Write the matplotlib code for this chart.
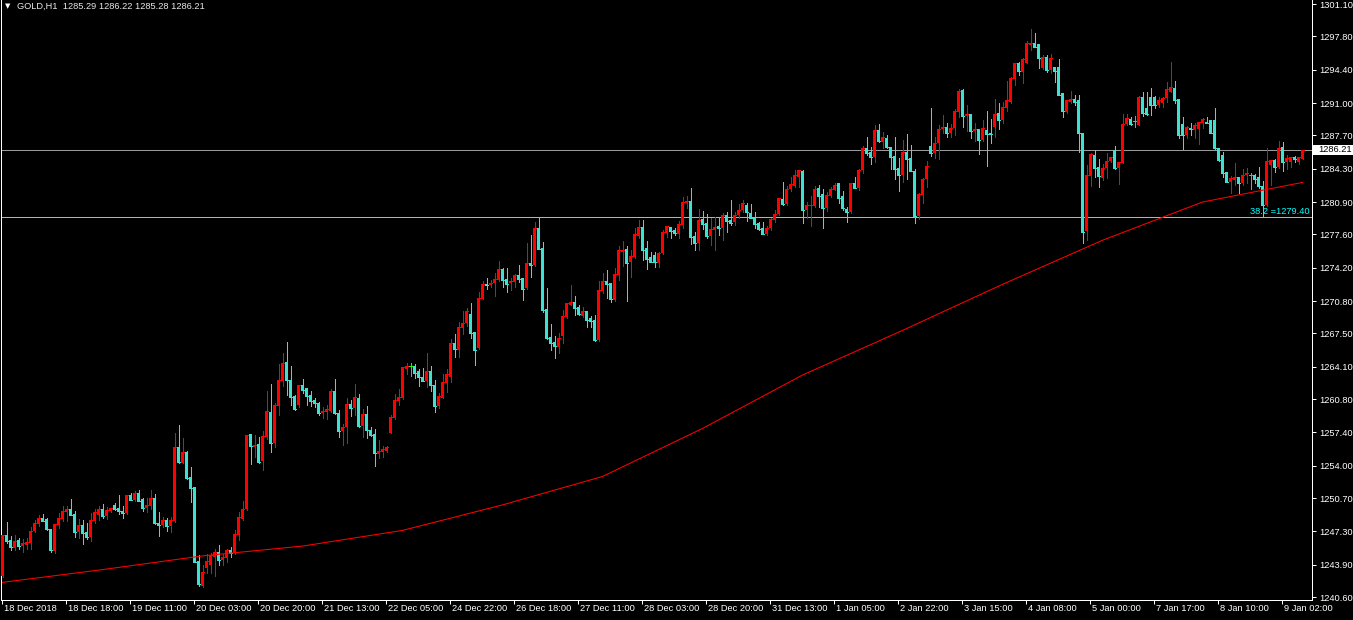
import matplotlib
matplotlib.use('Agg')
import matplotlib.pyplot as plt
import matplotlib.transforms as mtransforms
from matplotlib.patches import Rectangle
import numpy as np

# ---------------- data (GOLD, H1) ----------------
opens = [
1242.75,1246.9,1246.4,1245.6,1246.4,1245.8,1245.9,1246.1,1247.3,1248.1,
1248.7,1248.6,1247.5,1245.3,1248.0,1248.6,1249.3,1249.6,1249.1,1247.2,
1248.0,1247.2,1246.7,1248.4,1249.0,1249.6,1248.9,1249.4,1250.0,1249.7,
1249.4,1249.2,1251.0,1250.5,1251.2,1250.6,1249.7,1249.9,1250.7,1248.2,
1248.0,1248.5,1247.9,1248.4,1255.9,1254.3,1255.4,1252.8,1251.8,1244.3,
1241.7,1243.6,1243.9,1244.7,1245.2,1244.4,1244.6,1245.4,1245.1,1246.9,
1248.6,1249.6,1257.2,1255.9,1256.2,1254.5,1256.9,1259.5,1256.3,1260.1,
1262.6,1264.6,1262.7,1261.1,1260.2,1262.2,1261.9,1261.2,1260.7,1260.4,
1259.4,1259.5,1259.6,1261.6,1259.4,1257.5,1257.9,1260.3,1259.9,1260.9,
1258.0,1259.3,1257.6,1257.2,1255.2,1255.4,1255.5,1257.3,1258.9,1260.6,
1260.9,1263.9,1264.2,1264.2,1263.7,1263.1,1262.6,1263.7,1262.2,1260.1,
1260.9,1262.4,1263.1,1266.5,1265.8,1268.0,1268.6,1269.5,1267.6,1266.0,
1271.0,1272.5,1272.4,1272.6,1272.9,1274.1,1273.0,1272.6,1272.7,1273.5,
1273.2,1272.1,1274.7,1274.5,1278.2,1276.2,1270.0,1267.1,1266.6,1266.1,
1267.2,1269.2,1270.4,1270.7,1270.2,1269.3,1269.8,1269.1,1268.9,1266.8,
1271.8,1272.8,1272.6,1270.9,1273.5,1275.8,1276.1,1274.8,1275.3,1277.4,
1278.4,1276.2,1275.3,1275.5,1274.7,1275.7,1277.7,1278.4,1278.0,1277.6,
1278.6,1280.8,1281.0,1277.4,1276.7,1279.2,1278.8,1277.4,1278.0,1278.5,
1278.3,1279.6,1279.1,1278.9,1279.6,1280.1,1280.6,1279.8,1279.4,1278.8,
1278.2,1277.6,1278.2,1279.1,1279.7,1281.2,1280.7,1282.2,1282.5,1283.5,
1284.1,1280.1,1280.5,1280.5,1282.3,1281.7,1280.3,1281.5,1282.1,1282.8,
1281.5,1280.2,1279.9,1282.8,1282.3,1284.2,1286.4,1286.0,1285.5,1288.2,
1287.0,1287.4,1286.5,1285.6,1284.4,1283.7,1286.0,1285.4,1284.1,1279.5,
1281.6,1283.2,1286.6,1285.9,1286.9,1288.3,1288.6,1287.9,1288.5,1290.1,
1292.3,1289.7,1289.9,1288.1,1288.3,1287.2,1288.2,1287.9,1288.6,1290.0,
1289.3,1290.5,1291.1,1293.4,1295.1,1294.2,1295.1,1296.9,1297.1,1297.0,
1294.6,1295.7,1294.4,1294.7,1294.7,1292.0,1290.1,1291.1,1291.4,1291.3,
1287.9,1277.9,1283.6,1285.7,1284.5,1283.4,1284.4,1285.1,1286.2,1284.4,
1284.9,1288.9,1289.4,1289.2,1288.8,1291.6,1290.5,1291.6,1291.6,1290.8,
1291.0,1291.5,1292.1,1292.5,1291.4,1288.9,1287.7,1288.5,1288.2,1288.4,
1289.0,1289.1,1289.3,1289.3,1286.4,1285.7,1284.0,1282.9,1283.1,1283.5,
1282.8,1283.7,1283.7,1283.7,1283.5,1282.5,1280.6,1284.7,1285.2,1284.5,
1286.5,1285.0,1285.0,1285.5,1285.0,1285.29]

highs = [
1246.93,1248.3,1246.8,1246.9,1246.6,1246.5,1246.6,1247.7,1248.5,1249.0,
1249.1,1248.7,1247.5,1248.1,1249.2,1249.9,1249.9,1250.6,1249.4,1248.6,
1248.5,1248.2,1249.2,1249.6,1249.9,1250.1,1249.8,1249.7,1250.2,1251.0,
1249.9,1251.0,1251.2,1251.4,1251.5,1250.7,1250.7,1251.5,1251.1,1249.3,
1248.8,1248.7,1248.8,1257.3,1258.2,1256.8,1255.5,1253.9,1251.8,1244.9,
1243.9,1245.0,1245.1,1245.5,1245.9,1245.0,1245.5,1245.7,1247.4,1249.3,
1250.4,1257.1,1257.2,1257.1,1256.9,1257.5,1261.6,1262.3,1260.4,1264.4,
1265.5,1266.6,1264.2,1261.2,1262.2,1262.8,1261.9,1261.6,1260.9,1260.5,
1260.0,1260.2,1261.8,1262.8,1259.7,1258.3,1260.9,1260.7,1262.3,1261.3,
1259.8,1260.1,1257.9,1257.7,1256.6,1256.0,1256.0,1259.2,1261.3,1261.8,
1264.1,1264.5,1264.5,1264.4,1263.9,1264.0,1265.5,1264.2,1262.7,1261.4,
1263.4,1263.9,1266.9,1267.4,1268.7,1269.8,1270.1,1270.6,1267.6,1271.7,
1272.8,1273.1,1272.9,1273.7,1274.9,1274.2,1274.2,1273.2,1273.6,1274.5,
1273.2,1276.7,1277.5,1278.9,1279.3,1276.8,1272.1,1268.5,1267.2,1267.5,
1269.9,1270.6,1272.4,1271.3,1270.4,1270.2,1269.8,1269.3,1269.4,1272.8,
1273.7,1274.0,1272.6,1274.2,1276.4,1276.9,1276.4,1276.0,1278.2,1279.1,
1279.1,1276.9,1275.8,1275.8,1275.8,1278.0,1278.5,1278.4,1278.2,1279.0,
1281.4,1281.5,1282.3,1277.8,1280.2,1280.0,1279.7,1279.3,1279.4,1279.4,
1279.8,1279.9,1281.1,1279.9,1280.7,1281.1,1280.8,1280.7,1279.9,1278.9,
1278.9,1278.5,1279.3,1280.1,1281.3,1282.9,1282.5,1283.5,1284.2,1284.2,
1284.2,1280.9,1281.5,1282.5,1282.6,1282.2,1281.9,1282.4,1282.8,1282.8,
1282.0,1280.4,1282.8,1283.5,1284.3,1286.6,1287.5,1286.5,1288.8,1288.9,
1288.0,1287.7,1286.5,1287.5,1285.4,1287.2,1287.8,1286.7,1284.3,1281.8,
1283.4,1285.1,1290.5,1287.5,1288.8,1289.8,1289.0,1288.9,1290.4,1292.4,
1292.4,1290.8,1289.9,1289.0,1288.3,1289.3,1290.2,1289.4,1291.4,1291.0,
1291.1,1293.2,1293.7,1295.1,1295.2,1295.6,1297.3,1298.6,1298.1,1297.0,
1295.9,1295.9,1296.0,1294.7,1295.5,1292.0,1291.3,1292.2,1291.8,1291.8,
1287.9,1284.7,1285.9,1286.2,1285.3,1284.8,1285.9,1285.5,1286.6,1285.0,
1289.9,1289.9,1289.6,1289.7,1291.7,1292.1,1292.1,1292.5,1291.7,1291.6,
1291.6,1293.1,1295.2,1293.2,1291.4,1289.6,1288.7,1289.0,1289.0,1289.1,
1289.5,1289.6,1289.3,1290.5,1286.4,1286.0,1284.0,1283.6,1284.9,1283.5,
1284.3,1284.4,1283.9,1283.8,1284.5,1283.0,1286.4,1285.2,1285.3,1287.1,
1287.0,1285.7,1285.5,1285.6,1285.5,1286.22]

lows = [
1242.6,1246.1,1245.4,1245.4,1245.5,1245.2,1245.5,1245.5,1247.2,1247.9,
1248.4,1247.4,1245.2,1245.1,1247.6,1248.4,1248.4,1249.0,1246.7,1246.6,
1246.0,1246.5,1246.3,1248.2,1248.5,1248.7,1248.6,1249.3,1249.5,1249.1,
1248.7,1249.1,1250.5,1250.4,1250.4,1249.4,1249.3,1249.6,1248.1,1246.8,
1247.7,1247.3,1247.2,1248.3,1254.3,1254.3,1252.6,1250.3,1244.2,1241.7,
1241.6,1243.1,1243.1,1242.7,1243.9,1243.9,1244.2,1244.7,1245.0,1246.4,
1248.5,1249.5,1254.2,1254.9,1254.3,1253.6,1256.7,1255.4,1255.9,1259.2,
1262.1,1261.2,1260.2,1259.7,1260.0,1261.4,1260.2,1260.1,1260.0,1259.2,
1258.9,1258.8,1259.5,1259.3,1256.9,1256.1,1256.3,1259.1,1259.2,1257.9,
1256.9,1256.8,1257.0,1254.0,1254.8,1254.9,1255.4,1257.3,1258.8,1260.2,
1260.8,1263.4,1263.2,1262.9,1262.1,1262.6,1262.0,1261.6,1259.5,1259.9,
1260.9,1261.5,1262.5,1265.1,1265.1,1267.4,1268.3,1267.0,1264.3,1265.9,
1271.0,1272.0,1272.2,1271.3,1272.8,1272.2,1271.7,1271.9,1272.2,1272.7,
1270.9,1272.0,1273.3,1274.4,1276.1,1269.7,1266.9,1265.8,1265.0,1265.5,
1266.5,1269.1,1270.4,1269.4,1269.4,1269.2,1268.2,1268.2,1266.7,1266.7,
1271.6,1271.1,1270.7,1270.8,1272.9,1274.4,1270.8,1273.3,1275.2,1277.2,
1275.0,1274.1,1274.8,1274.3,1274.3,1275.6,1277.3,1277.2,1277.5,1277.2,
1278.3,1280.3,1276.6,1276.0,1276.0,1278.1,1277.2,1276.5,1276.0,1277.5,
1277.0,1277.8,1278.6,1278.6,1279.3,1279.9,1279.0,1279.3,1278.3,1278.0,
1277.6,1277.5,1278.0,1278.9,1279.6,1280.6,1280.6,1282.0,1282.4,1282.4,
1278.8,1279.3,1278.5,1280.4,1280.4,1278.2,1280.0,1281.4,1282.1,1280.8,
1280.1,1278.9,1279.8,1282.3,1282.1,1283.9,1285.7,1284.8,1285.0,1287.0,
1286.4,1286.4,1284.3,1283.3,1282.0,1282.9,1283.3,1284.1,1278.8,1279.2,
1280.8,1282.4,1285.6,1285.4,1285.3,1287.9,1287.5,1287.5,1287.7,1289.6,
1288.6,1288.1,1287.4,1287.1,1285.8,1287.1,1284.6,1286.9,1287.5,1288.3,
1289.0,1290.2,1291.0,1292.8,1293.9,1293.0,1295.1,1296.4,1296.7,1294.6,
1294.5,1294.2,1294.1,1293.1,1291.8,1289.6,1290.0,1291.0,1290.8,1286.0,
1276.7,1277.0,1282.5,1283.5,1282.4,1283.1,1283.4,1285.0,1284.3,1282.7,
1284.9,1288.8,1288.8,1288.6,1288.8,1289.7,1289.8,1289.8,1290.5,1290.6,
1290.6,1291.1,1292.1,1291.0,1287.4,1286.3,1287.4,1287.7,1287.4,1286.8,
1288.5,1289.0,1287.9,1286.3,1285.1,1283.5,1282.9,1281.8,1282.6,1281.8,
1282.6,1282.8,1282.2,1282.8,1282.3,1279.4,1280.5,1282.6,1284.0,1284.4,
1284.1,1284.3,1284.5,1285.0,1284.8,1285.28]

closes = [
1246.93,1246.3,1245.7,1246.3,1245.8,1246.1,1246.2,1247.3,1248.2,1248.7,
1248.4,1247.5,1245.4,1248.1,1248.7,1249.4,1249.6,1249.0,1247.2,1248.0,
1247.1,1246.7,1248.5,1249.3,1249.6,1248.9,1249.5,1249.7,1249.6,1249.4,
1249.2,1251.0,1250.5,1251.2,1250.4,1249.7,1250.0,1250.7,1248.2,1248.0,
1248.5,1247.9,1248.5,1255.9,1254.4,1255.4,1252.7,1251.7,1244.2,1241.9,
1243.2,1244.3,1244.9,1245.2,1244.4,1244.7,1245.4,1245.1,1247.0,1248.8,
1249.6,1257.1,1256.0,1256.1,1254.4,1257.0,1259.6,1256.3,1260.2,1262.7,
1264.5,1262.7,1261.0,1259.8,1262.2,1261.7,1261.1,1260.6,1260.4,1259.4,
1259.6,1259.8,1261.6,1259.4,1257.5,1257.9,1260.3,1259.9,1261.0,1258.0,
1259.3,1257.6,1257.1,1255.3,1255.5,1255.7,1255.9,1259.0,1260.7,1261.0,
1264.1,1264.2,1264.2,1263.5,1263.0,1262.6,1263.7,1262.2,1260.1,1261.1,
1262.5,1263.4,1266.5,1265.9,1268.1,1268.6,1269.8,1267.5,1265.8,1271.1,
1272.5,1272.4,1272.6,1273.0,1274.1,1272.9,1272.5,1272.8,1273.5,1273.0,
1272.0,1274.7,1274.5,1278.3,1276.1,1269.9,1267.0,1266.5,1266.2,1267.0,
1269.3,1270.6,1270.7,1270.1,1269.5,1269.8,1268.9,1268.8,1266.8,1271.9,
1272.8,1272.5,1271.0,1273.6,1276.0,1276.0,1274.7,1275.4,1277.6,1278.4,
1276.0,1275.1,1274.8,1274.8,1275.7,1277.8,1278.5,1277.9,1277.7,1278.7,
1280.9,1281.0,1277.3,1276.7,1279.1,1278.7,1277.4,1278.1,1278.4,1278.3,
1279.6,1279.0,1278.8,1279.6,1280.1,1280.8,1279.9,1279.3,1278.7,1278.1,
1277.6,1278.2,1279.2,1279.7,1281.3,1280.7,1282.2,1282.7,1283.7,1284.2,
1280.1,1280.6,1280.6,1282.2,1281.5,1280.3,1281.6,1282.2,1282.6,1281.3,
1280.3,1279.9,1282.8,1282.3,1284.2,1286.4,1285.9,1285.5,1288.2,1287.1,
1287.5,1286.5,1285.5,1284.3,1283.7,1286.0,1285.3,1284.1,1279.5,1281.7,
1283.3,1284.6,1285.9,1286.9,1288.4,1288.6,1287.9,1288.5,1290.2,1292.2,
1289.7,1289.9,1288.1,1288.4,1287.2,1288.5,1287.8,1287.8,1289.9,1289.3,
1290.6,1291.3,1293.6,1295.1,1294.3,1295.5,1297.1,1297.1,1296.7,1295.6,
1295.7,1294.4,1295.6,1294.3,1291.8,1290.2,1291.3,1291.4,1291.1,1287.9,
1277.8,1283.7,1285.8,1284.4,1283.6,1284.4,1285.1,1285.5,1284.4,1285.0,
1288.9,1289.5,1288.9,1289.2,1291.6,1290.0,1289.9,1290.8,1290.8,1291.3,
1291.5,1292.4,1292.6,1291.3,1287.7,1287.7,1288.6,1288.3,1288.8,1289.1,
1289.4,1289.0,1287.9,1286.4,1285.2,1283.9,1282.9,1283.4,1283.5,1282.8,
1283.7,1283.9,1283.7,1283.3,1282.5,1280.6,1285.1,1285.2,1284.5,1286.4,
1285.0,1285.4,1285.5,1285.3,1285.5,1286.21]

# moving average (read at sample bars)
ma_bars = [0, 25, 50, 75, 100, 125, 150, 175, 200, 225, 250, 275, 300, 325]
ma_values = [1242.1, 1243.4, 1244.8, 1245.8, 1247.4, 1250.0, 1252.9, 1257.8,
             1263.25, 1267.8, 1272.5, 1277.0, 1280.9, 1282.9]

date_labels = ["18 Dec 2018", "18 Dec 18:00", "19 Dec 11:00", "20 Dec 03:00",
               "20 Dec 20:00", "21 Dec 13:00", "22 Dec 05:00", "24 Dec 22:00",
               "26 Dec 18:00", "27 Dec 11:00", "28 Dec 03:00", "28 Dec 20:00",
               "31 Dec 13:00", "1 Jan 05:00", "2 Jan 22:00", "3 Jan 15:00",
               "4 Jan 08:00", "5 Jan 00:00", "7 Jan 17:00", "8 Jan 10:00",
               "9 Jan 02:00"]
date_label_bars = [0, 16, 32, 48, 64, 80, 96, 112, 128, 144, 160, 176, 192,
                   208, 224, 240, 256, 272, 288, 304, 320]

price_ticks = [1301.10, 1297.80, 1294.40, 1291.00, 1287.70, 1284.30, 1280.90,
               1277.60, 1274.20, 1270.80, 1267.50, 1264.10, 1260.80, 1257.40,
               1254.00, 1250.70, 1247.30, 1243.90, 1240.60]

current_price = 1286.21
fib_level = 1279.40
fib_label = "38.2 =1279.40"
title = "GOLD,H1  1285.29 1286.22 1285.28 1286.21"

# ---------------- style ----------------
BULL = '#FF0000'
BEAR = '#40E0D0'
DOJI = '#00FF00'
FIB = '#00FFFF'
FONT = 'Liberation Sans'
FS = 6.7
PX = 0.72  # one pixel in points at dpi 100

W, H = 1353, 620
fig = plt.figure(figsize=(W / 100, H / 100), dpi=100, facecolor='black')
ax = fig.add_axes([1 / W, 20 / H, 1311 / W, 600 / H], facecolor='black')

n = len(closes)
xs = np.arange(n)
o = np.array(opens); h = np.array(highs); l = np.array(lows); c = np.array(closes)

ax.set_xlim(-0.375, 327.375)
ax.set_ylim(1240.30, 1301.51)

cols = np.where(c > o, BULL, np.where(c < o, BEAR, DOJI))

# wicks
ax.vlines(xs, l, h, colors=cols, linewidth=PX, antialiased=False, zorder=3)
# bodies
body_bot = np.minimum(o, c)
body_h = np.abs(c - o)
mask = body_h > 0
ax.bar(xs[mask], body_h[mask], bottom=body_bot[mask], width=0.75,
       color=cols[mask], linewidth=0, antialiased=False, zorder=4)
# thin bodies / dojis as a 1px horizontal line
ax.hlines(c, xs - 0.375, xs + 0.375, colors=cols, linewidth=PX,
          antialiased=False, zorder=4)

# moving average
ax.plot(ma_bars, ma_values, color=BULL, linewidth=0.75, antialiased=True, zorder=5)

# horizontal lines
ax.axhline(current_price, color='#9A9A9A', linewidth=PX, antialiased=False, zorder=2)
ax.axhline(fib_level, color=FIB, linewidth=PX, antialiased=False, zorder=2)

# fib label
off = mtransforms.ScaledTranslation(-2 / 100, 1 / 100, fig.dpi_scale_trans)
ax.text(1.0, fib_level, fib_label, transform=ax.get_yaxis_transform() + off,
        ha='right', va='bottom', color=FIB, fontsize=FS, family=FONT, zorder=6)

# spines
for side in ['left', 'right', 'bottom']:
    ax.spines[side].set_color('white')
    ax.spines[side].set_linewidth(PX)
ax.spines['top'].set_visible(False)

# y axis on the right
ax.yaxis.tick_right()
ax.set_yticks(price_ticks)
ax.set_yticklabels([f"{v:.2f}" for v in price_ticks])
ax.tick_params(axis='y', colors='white', length=3, width=PX, pad=2.5,
               labelsize=FS)
for lbl in ax.get_yticklabels():
    lbl.set_family(FONT)

# x axis ticks + labels
ax.set_xticks([b - 0.125 for b in date_label_bars])
ax.set_xticklabels([])
ax.tick_params(axis='x', colors='white', length=3, width=PX, direction='out')
xoff = mtransforms.ScaledTranslation(2 / 100, -4 / 100, fig.dpi_scale_trans)
for b, s in zip(date_label_bars, date_labels):
    ax.text(b - 0.125, 0, s, transform=ax.get_xaxis_transform() + xoff,
            ha='left', va='top', color='white', fontsize=FS, family=FONT)

# current price box on the axis
ax.add_patch(Rectangle((1.0, current_price - 0.55), 41 / 1311, 1.05,
                       transform=ax.get_yaxis_transform(), facecolor='white',
                       edgecolor='none', clip_on=False, zorder=10))
poff = mtransforms.ScaledTranslation(6 / 100, 0, fig.dpi_scale_trans)
ax.text(1.0, current_price, f"{current_price:.2f}",
        transform=ax.get_yaxis_transform() + poff, ha='left', va='center',
        color='black', fontsize=FS, family=FONT, zorder=11, clip_on=False)

# title
fig.text(8 / W, 1 - 6.5 / H, '\u25bc', color='white', fontsize=5,
         family='DejaVu Sans', ha='center', va='center')
fig.text(17 / W, 1 - 6.5 / H, title, color='#E8E8E8', fontsize=FS,
         family=FONT, ha='left', va='center')

fig.savefig('out.png', dpi=100, facecolor='black')
